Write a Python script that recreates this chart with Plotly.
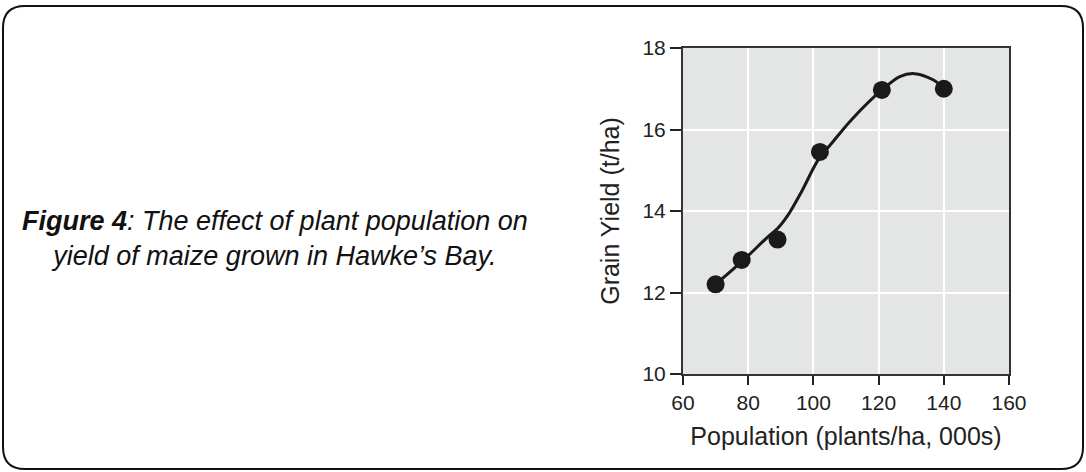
import plotly.graph_objects as go

# Observed data points
population = [70, 78, 89, 102, 121, 140]
grain_yield = [12.2, 12.8, 13.3, 15.45, 16.97, 17.0]

# Fitted curve
curve_x = [70, 78.6, 86.2, 89, 92.3, 96.4, 101.5, 106, 111.7, 121, 126.5, 131, 136.7, 140]
curve_y = [12.2, 12.8, 13.38, 13.57, 13.91, 14.48, 15.26, 15.7, 16.24, 16.97, 17.3, 17.37, 17.22, 17.02]

x_ticks = [60, 80, 100, 120, 140, 160]
y_ticks = [10, 12, 14, 16, 18]

W, H = 1086, 472
L, R, T, B = 683, 1009, 48, 374  # plot area in pixels

def px(x):
    return (x - L) / (R - L)

def py(y):
    return (B - y) / (B - T)

FONT = "Liberation Sans, Arial, Helvetica, sans-serif"

fig = go.Figure()
fig.add_trace(go.Scatter(
    x=curve_x, y=curve_y, mode="lines",
    line=dict(color="#1a1a1a", width=3, shape="spline", smoothing=0.9),
    hoverinfo="skip", showlegend=False,
))
fig.add_trace(go.Scatter(
    x=population, y=grain_yield, mode="markers",
    marker=dict(color="#1a1a1a", size=18),
    showlegend=False,
))

# rounded border
x0, x1, y0, y1, r = 3, 1083, 6, 469, 22
path = (
    f"M {px(x0+r)},{py(y0)} L {px(x1-r)},{py(y0)} "
    f"Q {px(x1)},{py(y0)} {px(x1)},{py(y0+r)} "
    f"L {px(x1)},{py(y1-r)} Q {px(x1)},{py(y1)} {px(x1-r)},{py(y1)} "
    f"L {px(x0+r)},{py(y1)} Q {px(x0)},{py(y1)} {px(x0)},{py(y1-r)} "
    f"L {px(x0)},{py(y0+r)} Q {px(x0)},{py(y0)} {px(x0+r)},{py(y0)} Z"
)
fig.add_shape(type="path", path=path, xref="paper", yref="paper",
              line=dict(color="#111111", width=2), layer="above")

fig.add_annotation(
    text="<i><b>Figure 4</b>: The effect of plant population on<br>yield of maize grown in Hawke\u2019s Bay.</i>",
    xref="paper", yref="paper", x=px(275), y=py(239),
    xanchor="center", yanchor="middle", showarrow=False, align="center",
    font=dict(family=FONT, size=27, color="#111111"),
)

fig.update_layout(
    width=W, height=H,
    margin=dict(l=L, r=W - R, t=T, b=H - B),
    paper_bgcolor="white", plot_bgcolor="#e4e5e5",
    font=dict(family=FONT, color="#222222"),
)
fig.update_xaxes(
    range=[60, 160], tickvals=x_ticks, ticks="outside", ticklen=9, tickwidth=2,
    tickcolor="#222222", showline=True, linecolor="#333333", linewidth=2, mirror=True,
    gridcolor="white", gridwidth=2, zeroline=False, tickfont=dict(size=21),
    title=dict(text="Population (plants/ha, 000s)", font=dict(size=25), standoff=14),
)
fig.update_yaxes(
    range=[10, 18], tickvals=y_ticks, ticks="outside", ticklen=11, tickwidth=2,
    tickcolor="#222222", showline=True, linecolor="#333333", linewidth=2, mirror=True,
    gridcolor="white", gridwidth=2, zeroline=False, tickfont=dict(size=21),
    title=dict(text="Grain Yield (t/ha)", font=dict(size=25), standoff=16),
)

fig.write_html("out.html", config={"displayModeBar": False},
               post_script="document.body.style.margin='0';")
